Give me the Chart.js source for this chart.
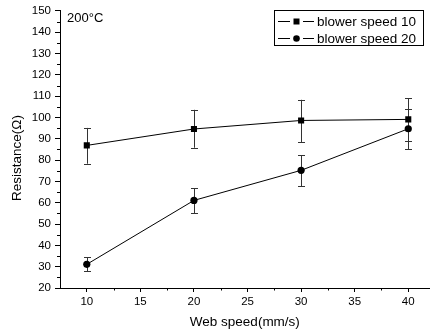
<!DOCTYPE html>
<html><head><meta charset="utf-8">
<script src="https://cdn.jsdelivr.net/npm/chart.js@4"></script>
<style>html,body{margin:0;padding:0;background:#fff}#wrap{width:434px;height:333px;position:relative}</style>
</head><body><div id="wrap"><canvas id="c" width="434" height="333"></canvas></div>
<script>
// ---- data ----
const webSpeed = [10, 20, 30, 40];
const seriesLabels = ['blower speed 10', 'blower speed 20'];
const blower10 = [86.9, 94.6, 98.6, 99.1];
const blower10Low = [78.3, 85.8, 88.5, 88.9];
const blower10High = [95.1, 103.6, 108.3, 109.0];
const blower20 = [31.1, 61.1, 75.2, 94.7];
const blower20Low = [27.9, 55.0, 67.7, 85.1];
const blower20High = [34.4, 66.7, 82.3, 103.8];
const xTicks = [10, 15, 20, 25, 30, 35, 40];
const xMinorTicks = [12.5, 17.5, 22.5, 27.5, 32.5, 37.5];
const yTicks = [20, 30, 40, 50, 60, 70, 80, 90, 100, 110, 120, 130, 140, 150];
const yMinorTicks = [25, 35, 45, 55, 65, 75, 85, 95, 105, 115, 125, 135, 145];
const annotationText = '200°C';
const xTitle = 'Web speed(mm/s)';
const yTitle = 'Resistance(Ω)';

const FONT = "'Liberation Sans', Arial, sans-serif";

const toPts = (ys) => webSpeed.map((x, i) => ({x: x, y: ys[i]}));
const lows = [blower10Low, blower20Low];
const highs = [blower10High, blower20High];

const extras = {
  id: 'extras',
  beforeDatasetsDraw(chart) {
    const ctx = chart.ctx;
    const xs = chart.scales.x, ys = chart.scales.y;
    ctx.save();
    ctx.strokeStyle = '#333';
    ctx.lineWidth = 1;
    for (let d = 0; d < 2; d++) {
      for (let i = 0; i < webSpeed.length; i++) {
        const px = Math.round(xs.getPixelForValue(webSpeed[i])) + 0.5;
        const y1 = ys.getPixelForValue(lows[d][i]);
        const y2 = ys.getPixelForValue(highs[d][i]);
        ctx.beginPath();
        ctx.moveTo(px, y1); ctx.lineTo(px, y2);
        ctx.moveTo(px - 3.5, Math.round(y1) + 0.5); ctx.lineTo(px + 3.5, Math.round(y1) + 0.5);
        ctx.moveTo(px - 3.5, Math.round(y2) + 0.5); ctx.lineTo(px + 3.5, Math.round(y2) + 0.5);
        ctx.stroke();
      }
    }
    ctx.restore();
  },
  afterDraw(chart) {
    const ctx = chart.ctx;
    const xs = chart.scales.x, ys = chart.scales.y;
    const ca = chart.chartArea;
    ctx.save();
    ctx.strokeStyle = '#000';
    ctx.lineWidth = 1;
    ctx.beginPath();
    xMinorTicks.forEach(v => {
      const px = Math.round(xs.getPixelForValue(v)) + 0.5;
      ctx.moveTo(px, ca.bottom); ctx.lineTo(px, ca.bottom + 2.5);
    });
    yMinorTicks.forEach(v => {
      const py = Math.round(ys.getPixelForValue(v)) + 0.5;
      ctx.moveTo(ca.left, py); ctx.lineTo(ca.left - 3, py);
    });
    ctx.stroke();
    ctx.fillStyle = '#000';
    ctx.font = '13px ' + FONT;
    ctx.textBaseline = 'middle';
    ctx.textAlign = 'left';
    ctx.fillText(annotationText, 67, 18);
    ctx.save();
    ctx.translate(17, 158);
    ctx.rotate(-Math.PI / 2);
    ctx.textAlign = 'center';
    ctx.font = '13.5px ' + FONT;
    ctx.fillText(yTitle, 0, 0);
    ctx.restore();
    // legend
    ctx.strokeStyle = '#000';
    ctx.strokeRect(274.5, 10.5, 149, 35);
    const rows = [21, 37.5];
    chart.data.datasets.forEach((ds, k) => {
      const ry = Math.round(rows[k]) + 0.5;
      ctx.beginPath();
      ctx.moveTo(278, ry); ctx.lineTo(290, ry);
      ctx.moveTo(303, ry); ctx.lineTo(314, ry);
      ctx.stroke();
      ctx.beginPath();
      if (ds.pointStyle === 'rect') {
        ctx.rect(296.5 - 3, ry - 3, 6, 6);
      } else {
        ctx.arc(296.5, ry, 3.3, 0, Math.PI * 2);
      }
      ctx.fill();
      ctx.font = '13.5px ' + FONT;
      ctx.textAlign = 'left';
      ctx.fillText(ds.label, 317, ry + 0.5);
    });
    ctx.restore();
  }
};

new Chart(document.getElementById('c'), {
  type: 'line',
  data: {
    datasets: [
      {label: seriesLabels[0], data: toPts(blower10), borderColor: '#000', backgroundColor: '#000',
       borderWidth: 1, pointStyle: 'rect', pointRadius: 4.3, pointBorderWidth: 0, tension: 0},
      {label: seriesLabels[1], data: toPts(blower20), borderColor: '#000', backgroundColor: '#000',
       borderWidth: 1, pointStyle: 'circle', pointRadius: 3.6, pointBorderWidth: 0, tension: 0}
    ]
  },
  options: {
    responsive: false,
    animation: false,
    layout: {padding: {top: 10, right: 3, left: 0, bottom: 0}},
    plugins: {legend: {display: false}, tooltip: {enabled: false}},
    scales: {
      x: {
        type: 'linear', min: 7.5, max: 42,
        afterBuildTicks: (s) => { s.ticks = xTicks.map(v => ({value: v})); },
        afterFit: (s) => { s.height = 45; },
        grid: {drawOnChartArea: false, drawTicks: true, tickLength: 4, color: '#000'},
        border: {display: true, color: '#000', width: 1},
        ticks: {color: '#000', font: {family: FONT, size: 11.5}, padding: 3, maxRotation: 0, autoSkip: false},
        title: {display: true, text: xTitle, color: '#000', font: {family: FONT, size: 13.5}, padding: {top: 0, bottom: 3}}
      },
      y: {
        type: 'linear', min: 20, max: 150,
        afterBuildTicks: (s) => { s.ticks = yTicks.map(v => ({value: v})); },
        afterFit: (s) => { s.width = 60; },
        grid: {drawOnChartArea: false, drawTicks: true, tickLength: 5, color: '#000'},
        border: {display: true, color: '#000', width: 1},
        ticks: {color: '#000', font: {family: FONT, size: 11.5}, padding: 4, autoSkip: false}
      }
    }
  },
  plugins: [extras]
});
</script></body></html>
